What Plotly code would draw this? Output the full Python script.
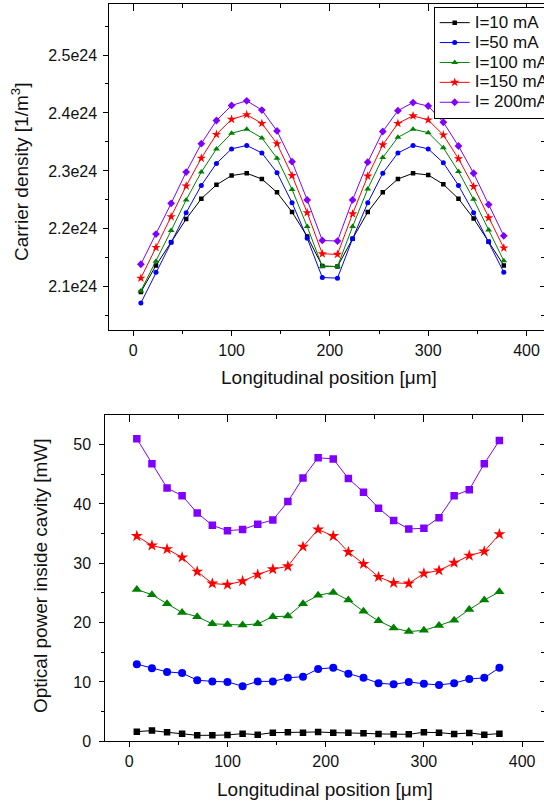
import plotly.graph_objects as go

# ---------------- data ----------------
position_um = [7.7, 23.1, 38.5, 53.8, 69.2, 84.6, 100.0, 115.4, 130.8, 146.2, 161.5, 176.9,
               192.3, 207.7, 223.1, 238.5, 253.8, 269.2, 284.6, 300.0, 315.4, 330.8, 346.2,
               361.5, 376.9]

current_labels = ["I=10 mA", "I=50 mA", "I=100 mA", "I=150 mA", "I= 200mA"]

# carrier density, in units of 1e24 m^-3
density_10mA = [2.091, 2.137, 2.177, 2.217, 2.252, 2.276, 2.292, 2.296, 2.286, 2.263, 2.229, 2.187,
                2.136, 2.135, 2.183, 2.229, 2.263, 2.286, 2.296, 2.293, 2.277, 2.252, 2.218, 2.178, 2.137]
density_50mA = [2.072, 2.125, 2.177, 2.228, 2.275, 2.313, 2.338, 2.344, 2.331, 2.297, 2.245, 2.184,
                2.116, 2.115, 2.183, 2.245, 2.296, 2.331, 2.344, 2.338, 2.314, 2.275, 2.228, 2.178, 2.125]
density_100mA = [2.093, 2.144, 2.197, 2.250, 2.298, 2.338, 2.365, 2.372, 2.357, 2.322, 2.268, 2.204,
                 2.135, 2.135, 2.204, 2.269, 2.323, 2.358, 2.372, 2.366, 2.340, 2.299, 2.251, 2.198, 2.145]
density_150mA = [2.115, 2.168, 2.221, 2.274, 2.322, 2.363, 2.389, 2.397, 2.382, 2.347, 2.292, 2.228,
                 2.157, 2.156, 2.226, 2.291, 2.345, 2.382, 2.395, 2.388, 2.362, 2.321, 2.273, 2.219, 2.167]
density_200mA = [2.139, 2.191, 2.244, 2.298, 2.347, 2.387, 2.413, 2.421, 2.405, 2.369, 2.316, 2.250,
                 2.180, 2.179, 2.250, 2.315, 2.368, 2.404, 2.418, 2.412, 2.384, 2.343, 2.296, 2.242, 2.188]
density_unit = 1e24

# optical power inside cavity [mW]
power_10mA = [1.63, 1.80, 1.52, 1.29, 1.01, 1.01, 1.07, 1.29, 1.12, 1.46, 1.52, 1.46, 1.57, 1.46,
              1.46, 1.35, 1.24, 1.18, 1.18, 1.52, 1.46, 1.24, 1.41, 1.12, 1.29]
power_50mA = [13.0, 12.3, 11.7, 11.5, 10.3, 10.1, 10.0, 9.3, 10.1, 10.1, 10.7, 10.9, 12.2, 12.4,
              11.4, 10.7, 9.8, 9.6, 10.0, 9.7, 9.5, 9.8, 10.5, 10.7, 12.4]
power_100mA = [25.6, 24.7, 23.2, 21.7, 21.0, 19.8, 19.7, 19.6, 19.8, 21.0, 21.1, 23.2, 24.6, 25.1,
               23.8, 21.9, 20.3, 19.1, 18.5, 18.7, 19.5, 20.4, 22.2, 23.8, 25.2]
power_150mA = [34.6, 33.0, 32.4, 31.0, 28.6, 26.6, 26.4, 27.0, 28.1, 29.0, 29.5, 32.8, 35.7, 34.6,
               31.9, 29.9, 27.7, 26.7, 26.6, 28.3, 28.8, 30.1, 31.3, 32.0, 34.9]
power_200mA = [51.0, 46.8, 42.7, 41.4, 38.5, 36.4, 35.5, 35.7, 36.6, 37.3, 40.4, 44.4, 47.8, 47.6,
               44.3, 42.0, 39.3, 37.2, 35.8, 35.9, 37.7, 41.4, 42.4, 46.8, 50.7]

x_ticks = [0, 100, 200, 300, 400]
x_minor = [50, 150, 250, 350]
density_ticks = [2.1, 2.2, 2.3, 2.4, 2.5]
density_ticklabels = ["2.1e24", "2.2e24", "2.3e24", "2.4e24", "2.5e24"]
density_minor = [2.05, 2.15, 2.25, 2.35, 2.45, 2.55]
power_ticks = [0, 10, 20, 30, 40, 50]
power_minor = [5, 15, 25, 35, 45]

# ---------------- styles ----------------
colors = ["#000000", "#0000ff", "#008000", "#ff0000", "#8000ff"]
top_symbols = ["square", "circle", "triangle-up", "star", "diamond"]
top_sizes = [4.5, 5, 6, 7, 6]
bot_symbols = ["square", "circle", "triangle-up", "star", "square"]
bot_sizes = [6.5, 8, 9, 9, 7.5]

FONT = "Liberation Sans, Arial, sans-serif"
W, H = 544, 805

densities = [density_10mA, density_50mA, density_100mA, density_150mA, density_200mA]
powers = [power_10mA, power_50mA, power_100mA, power_150mA, power_200mA]

fig = go.Figure()
for i, lab in enumerate(current_labels):
    fig.add_trace(go.Scatter(
        x=position_um, y=[v * density_unit for v in densities[i]],
        xaxis="x", yaxis="y", mode="lines+markers",
        name='<span style="font-size:17px">' + lab + '</span>',
        line=dict(color=colors[i], width=1),
        marker=dict(symbol=top_symbols[i], size=top_sizes[i], color=colors[i], line=dict(width=0)),
    ))
for i, lab in enumerate(current_labels):
    fig.add_trace(go.Scatter(
        x=position_um, y=powers[i],
        xaxis="x2", yaxis="y2", mode="lines+markers", name=lab, showlegend=False,
        line=dict(color=colors[i], width=1),
        marker=dict(symbol=bot_symbols[i], size=bot_sizes[i], color=colors[i], line=dict(width=0)),
    ))

# dummy traces to realise the mirrored (overlay) axes
for xa, ya in [("x3", "y"), ("x4", "y2"), ("x", "y3"), ("x2", "y4")]:
    fig.add_trace(go.Scatter(x=[None], y=[None], xaxis=xa, yaxis=ya, showlegend=False,
                             hoverinfo="skip", mode="markers"))

top_dom_y = [(H - 330.3) / H, (H - 4) / H]
bot_dom_y = [(H - 741.3) / H, (H - 415) / H]
top_dom_x = [109.3 / W, 1.0]
bot_dom_x = [105.3 / W, 1.0]
top_xrange = [-24.4, 417.8]
bot_xrange = [-24.4, 422.3]
top_yrange = [2.025 * density_unit, 2.588 * density_unit]
bot_yrange = [0, 55]

tickfont = dict(family=FONT, size=16, color="#111111")
common = dict(showgrid=False, zeroline=False, showline=True, linecolor="#000000", linewidth=1,
              ticks="outside", ticklen=5, tickwidth=1, tickcolor="#000000", tickfont=tickfont,
              automargin=False)

fig.update_layout(
    width=W, height=H,
    margin=dict(l=0, r=0, t=0, b=0, autoexpand=False),
    paper_bgcolor="white", plot_bgcolor="white",
    font=dict(family=FONT, size=16, color="#111111"),
    xaxis=dict(domain=top_dom_x, anchor="y", range=top_xrange, tickmode="array", tickvals=x_ticks,
               minor=dict(tickmode="array", tickvals=x_minor, ticks="outside", ticklen=3, tickcolor="#000000"),
               **common),
    yaxis=dict(domain=top_dom_y, anchor="x", range=top_yrange, tickmode="array",
               tickvals=[v * density_unit for v in density_ticks], ticktext=density_ticklabels,
               minor=dict(tickmode="array", tickvals=[v * density_unit for v in density_minor],
                          ticks="outside", ticklen=3, tickcolor="#000000"),
               ticklabelstandoff=3,
               **common),
    xaxis2=dict(domain=bot_dom_x, anchor="y2", range=bot_xrange, tickmode="array", tickvals=x_ticks,
                minor=dict(tickmode="array", tickvals=x_minor, ticks="outside", ticklen=3, tickcolor="#000000"),
                **common),
    yaxis2=dict(domain=bot_dom_y, anchor="x2", range=bot_yrange, tickmode="array", tickvals=power_ticks,
                minor=dict(tickmode="array", tickvals=power_minor, ticks="outside", ticklen=3, tickcolor="#000000"),
                ticklabelstandoff=5,
                **common),
    xaxis3=dict(overlaying="x", anchor="y", side="top", range=top_xrange, tickmode="array", tickvals=x_ticks,
                showticklabels=False, showgrid=False, zeroline=False, showline=True, linecolor="#000000",
                linewidth=1, ticks="inside", ticklen=7, tickcolor="#000000", automargin=False,
                minor=dict(tickmode="array", tickvals=x_minor, ticks="inside", ticklen=4, tickcolor="#000000")),
    xaxis4=dict(overlaying="x2", anchor="y2", side="top", range=bot_xrange, tickmode="array", tickvals=x_ticks,
                showticklabels=False, showgrid=False, zeroline=False, showline=True, linecolor="#000000",
                linewidth=1, ticks="inside", ticklen=7, tickcolor="#000000", automargin=False,
                minor=dict(tickmode="array", tickvals=x_minor, ticks="inside", ticklen=4, tickcolor="#000000")),
    yaxis3=dict(overlaying="y", anchor="x", side="right", range=top_yrange, tickmode="array",
                tickvals=[v * density_unit for v in density_ticks], showticklabels=False, showgrid=False,
                zeroline=False, showline=False, ticks="inside", ticklen=4, tickcolor="#000000", automargin=False,
                minor=dict(tickmode="array", tickvals=[v * density_unit for v in density_minor],
                           ticks="inside", ticklen=3, tickcolor="#000000")),
    yaxis4=dict(overlaying="y2", anchor="x2", side="right", range=bot_yrange, tickmode="array",
                tickvals=power_ticks, showticklabels=False, showgrid=False,
                zeroline=False, showline=False, ticks="inside", ticklen=4, tickcolor="#000000", automargin=False,
                minor=dict(tickmode="array", tickvals=power_minor, ticks="inside", ticklen=3, tickcolor="#000000")),
    legend=dict(x=433.7 / W, y=(H - 6.7) / H, xanchor="left", yanchor="top",
                bgcolor="white", bordercolor="#000000", borderwidth=1,
                font=dict(family=FONT, size=13, color="#111111"), traceorder="normal"),
    showlegend=True,
)

title_font = dict(family=FONT, size=19, color="#111111")
annotations = [
    dict(text="Carrier density [1/m<sup>3</sup>]", x=20 / W, y=(H - 172) / H, textangle=-90),
    dict(text="Longitudinal position [\u03bcm]", x=329 / W, y=(H - 378) / H, textangle=0),
    dict(text="Optical power inside cavity [mW]", x=40 / W, y=(H - 576) / H, textangle=-90),
    dict(text="Longitudinal position [\u03bcm]", x=325 / W, y=(H - 789) / H, textangle=0),
]
for a in annotations:
    fig.add_annotation(xref="paper", yref="paper", showarrow=False, xanchor="center", yanchor="middle",
                       font=title_font, **a)

fig.write_html("out.html")
